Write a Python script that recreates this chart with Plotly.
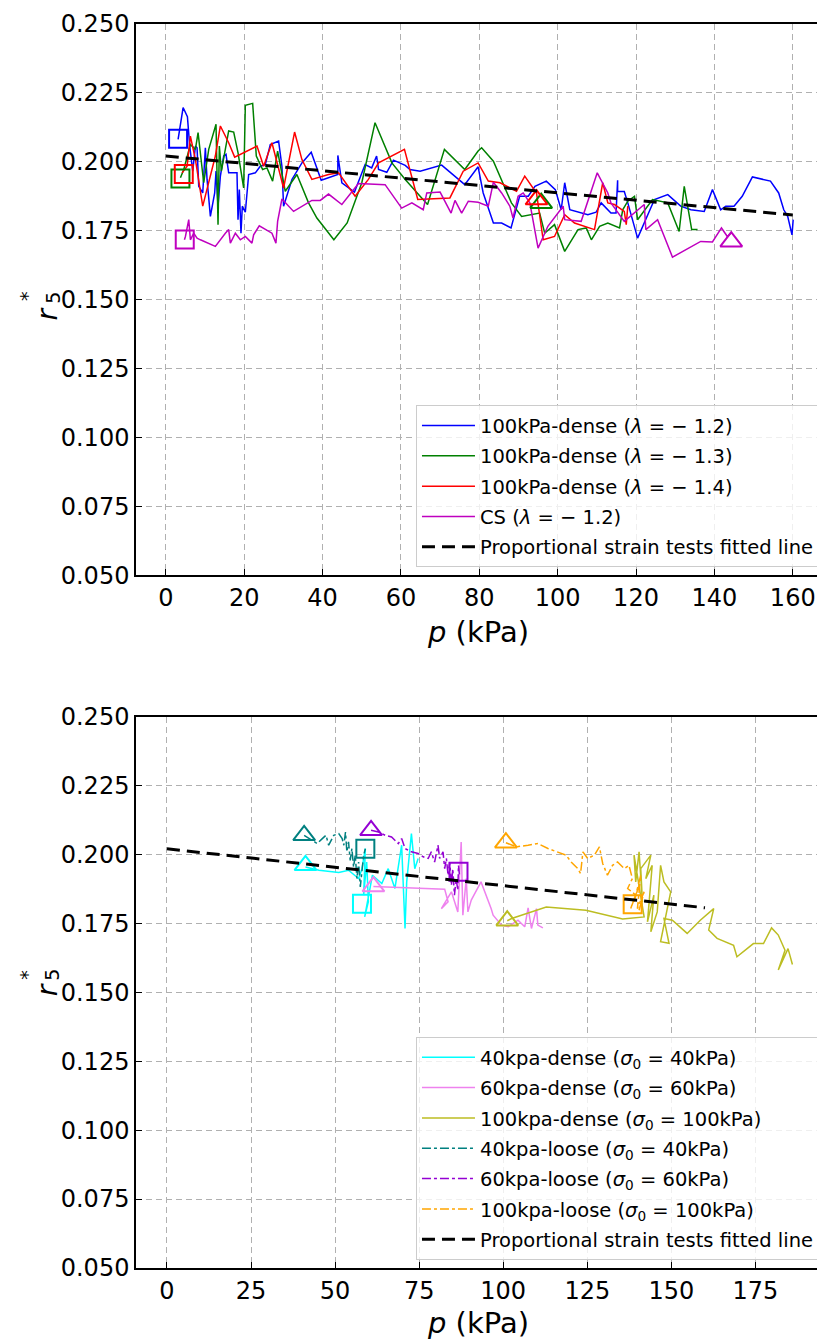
import plotly.graph_objects as go

# ---------------- top panel data ----------------
blue_p = [3.14, 4.42, 5.52, 6.11, 6.88, 7.56, 7.98, 8.41, 9.43, 10.1, 10.53, 11.38, 12.48, 12.82, 13.33, 13.93,
          14.78, 15.37, 16.05, 18.17, 18.43, 18.77, 19.19, 19.53, 20.3, 21.15, 22.85, 24.12, 25.39, 26.67, 28.79,
          29.64, 30.06, 32.19, 34.74, 37.11, 39.66, 43.91, 43.91, 44.93, 48.15, 50.87, 52.55, 53.8, 54.3, 56.4,
          58.1, 61.1, 62.3, 64.9, 70.4, 76.3, 79.7, 81.0, 83.6, 85.7, 88.1, 90.3, 92.5, 94.2, 97.1, 99.4, 100.9,
          101.8, 103.1, 107.7, 109.8, 111.1, 113.6, 114.9, 115.3, 115.3, 117.0, 117.9, 120.4, 124.7, 128.1,
          131.4, 134.0, 137.4, 139.5, 141.6, 142.9, 145.0, 147.1, 149.7, 154.3, 156.4, 157.7, 158.7, 159.8, 160.1]
blue_r = [0.2081, 0.2197, 0.2164, 0.2057, 0.1966, 0.2057, 0.2051, 0.1911, 0.1887, 0.2051, 0.1936, 0.1802, 0.1887,
          0.1966, 0.1839, 0.1948, 0.2021, 0.2027, 0.1960, 0.1960, 0.1790, 0.1899, 0.1741, 0.1839, 0.1817, 0.1954,
          0.1960, 0.1984, 0.1990, 0.2063, 0.2075, 0.1984, 0.1839, 0.1936, 0.1996, 0.2035, 0.1933, 0.1954, 0.2023,
          0.1924, 0.1890, 0.1990, 0.1978, 0.2021, 0.1972, 0.1962, 0.2006, 0.1987, 0.1972, 0.1966, 0.1988, 0.1917,
          0.1982, 0.1887, 0.1778, 0.1778, 0.1760, 0.1875, 0.1875, 0.1911, 0.1930, 0.1899, 0.1826, 0.1924, 0.1826,
          0.1808, 0.1817, 0.1851, 0.1814, 0.1814, 0.1933, 0.1893, 0.1892, 0.1851, 0.1723, 0.1863, 0.1881, 0.1839,
          0.1826, 0.1820, 0.1899, 0.1826, 0.1839, 0.1839, 0.1875, 0.1945, 0.1930, 0.1887, 0.1826, 0.1802, 0.1735,
          0.1790]

green_p = [3.74, 4.59, 6.28, 7.56, 8.24, 9.68, 10.96, 12.82, 13.33, 13.67, 14.18, 16.05, 17.33, 18.43, 19.87, 20.3,
           22.17, 23.1, 24.71, 25.82, 27.26, 28.54, 30.49, 33.46, 36.43, 38.56, 42.89, 46.28, 50.02, 53.4, 57.7,
           61.1, 65.3, 66.8, 71.1, 76.3, 79.7, 80.6, 83.6, 85.7, 88.2, 90.8, 92.9, 95.4, 96.7, 99.2, 101.8, 105.2,
           107.3, 108.6, 110.7, 112.8, 115.8, 116.6, 117.9, 119.6, 120.4, 123.0, 124.2, 128.1, 129.7, 131.0, 132.3,
           134.2, 135.7]
green_r = [0.1942, 0.1972, 0.2063, 0.2045, 0.2106, 0.1924, 0.2045, 0.2136, 0.1772, 0.2057, 0.1966, 0.2112, 0.2108,
           0.2033, 0.1905, 0.2205, 0.2212, 0.2021, 0.1972, 0.1978, 0.1930, 0.2039, 0.1893, 0.1954, 0.1851, 0.1796,
           0.1717, 0.1778, 0.1924, 0.2142, 0.1996, 0.1936, 0.1869, 0.1845, 0.2045, 0.1972, 0.2039, 0.2051, 0.2002,
           0.1930, 0.1851, 0.1802, 0.1808, 0.1814, 0.1741, 0.1772, 0.1675, 0.1754, 0.1760, 0.1717, 0.1766, 0.1778,
           0.1760, 0.1826, 0.1857, 0.1875, 0.1790, 0.1839, 0.1863, 0.1851, 0.1790, 0.1747, 0.1911, 0.1754, 0.1754]

red_p = [4.16, 5.44, 6.28, 7.56, 9.43, 11.38, 12.65, 13.93, 16.05, 17.58, 23.27, 24.97, 27.09, 30.06, 32.87, 34.74,
         37.28, 41.53, 44.08, 48.32, 51.7, 54.3, 60.9, 64.3, 72.5, 75.9, 79.7, 82.3, 85.3, 89.5, 91.6, 94.6, 96.3,
         99.2, 101.8, 104.3, 109.4, 111.5, 112.8, 114.5, 117.0, 117.5, 117.9]
red_r = [0.1960, 0.1984, 0.2093, 0.2008, 0.1839, 0.1948, 0.2021, 0.2130, 0.2069, 0.2017, 0.2057, 0.1984, 0.2069,
         0.1905, 0.2108, 0.2008, 0.1936, 0.1954, 0.1960, 0.1875, 0.1936, 0.1996, 0.2045, 0.1863, 0.1869, 0.1966,
         0.1996, 0.1930, 0.1924, 0.1893, 0.1948, 0.1887, 0.1717, 0.1729, 0.1808, 0.1778, 0.1754, 0.1924, 0.1851,
         0.1845, 0.1820, 0.1772, 0.1839]

mag_p = [4.76, 5.01, 5.86, 6.28, 7.13, 7.98, 8.83, 12.65, 15.2, 16.05, 16.48, 17.75, 19.02, 20.3, 21.99, 22.42,
         23.86, 27.09, 28.11, 28.54, 29.64, 32.61, 37.28, 39.41, 41.53, 44.93, 49.17, 55.97, 60.2, 62.8, 65.7,
         66.6, 70.0, 72.8, 73.8, 75.5, 77.2, 79.7, 82.3, 83.6, 85.7, 87.8, 88.6, 89.9, 91.2, 92.9, 95.0, 97.5,
         101.4, 101.8, 106.0, 107.7, 110.1, 112.8, 113.6, 117.0, 122.1, 122.5, 125.5, 129.3, 136.5, 139.5, 141.8,
         143.3, 144.2]
mag_r = [0.1717, 0.1729, 0.1790, 0.1717, 0.1741, 0.1723, 0.1717, 0.1693, 0.1741, 0.1754, 0.1705, 0.1741, 0.1717,
         0.1729, 0.1705, 0.1735, 0.1768, 0.1741, 0.1705, 0.1784, 0.1865, 0.1820, 0.1860, 0.1860, 0.1883, 0.1845,
         0.1921, 0.1917, 0.1832, 0.1851, 0.1826, 0.1887, 0.1890, 0.1814, 0.1860, 0.1814, 0.1857, 0.1853, 0.1839,
         0.1926, 0.1887, 0.1839, 0.1796, 0.1875, 0.1887, 0.1851, 0.1687, 0.1766, 0.1839, 0.1790, 0.1784, 0.1857,
         0.1960, 0.1887, 0.1851, 0.1784, 0.1845, 0.1754, 0.1790, 0.1654, 0.1711, 0.1709, 0.1760, 0.1729, 0.1741]

# start (square) and end (triangle) markers, top panel
top_sq_p = [3.14, 3.74, 4.59, 4.84]
top_sq_r = [0.2084, 0.1939, 0.1956, 0.1718]
top_tri_p = [95.8, 94.6, 144.3]
top_tri_r = [0.1850, 0.1863, 0.1710]

# fitted line (shared by both panels)
fit_p = [0, 160]
fit_r = [0.2021, 0.1807]

# ---------------- bottom panel data ----------------
cyan_p = [41.2, 45.2, 51.1, 54.0, 57.0, 58.0, 59.0, 58.5, 59.4, 59.9, 58.8, 60.4, 61.1, 63.9, 65.8, 67.8, 69.8,
          70.8, 71.3, 72.7, 73.7, 74.7]
cyan_r = [0.1955, 0.1943, 0.1935, 0.1943, 0.1913, 0.1949, 0.2022, 0.1853, 0.1973, 0.1829, 0.1774, 0.1877, 0.1925,
          0.1895, 0.1949, 0.1877, 0.2034, 0.1732, 0.1901, 0.2076, 0.1949, 0.1986]

violet_p = [61.4, 63.9, 72.7, 82.6, 83.6, 81.6, 84.6, 86.5, 87.5, 88.0, 89.0, 89.5, 90.5, 93.4, 96.4, 97.0, 99.5,
            101.5, 104.4, 106.4, 107.4, 108.4, 109.9, 110.3, 111.8]
violet_r = [0.1884, 0.1883, 0.1879, 0.1874, 0.1829, 0.1804, 0.1865, 0.1792, 0.2046, 0.1780, 0.1913, 0.1792, 0.1835,
            0.1901, 0.1804, 0.1780, 0.1744, 0.1738, 0.1762, 0.1738, 0.1807, 0.1732, 0.1804, 0.1744, 0.1734]

olive_p = [101.2, 102.5, 112.8, 124.6, 135.5, 141.9, 138.9, 139.4, 140.4, 141.4, 140.9, 143.9, 142.4, 144.3, 142.9,
           144.8, 143.9, 145.8, 146.8, 147.8, 149.8, 146.8, 149.3, 147.8, 150.3, 154.7, 158.6, 162.6, 161.1, 163.6,
           168.5, 169.5, 174.4, 177.4, 179.8, 181.8, 183.8, 181.8, 184.7, 186.0]
olive_r = [0.1760, 0.1768, 0.1810, 0.1798, 0.1766, 0.1774, 0.1998, 0.1901, 0.2010, 0.1828, 0.1949, 0.1998, 0.1913,
           0.1961, 0.1756, 0.1853, 0.1720, 0.1792, 0.1961, 0.1901, 0.1865, 0.1684, 0.1678, 0.1768, 0.1762, 0.1714,
           0.1762, 0.1804, 0.1726, 0.1696, 0.1671, 0.1629, 0.1677, 0.1677, 0.1734, 0.1708, 0.1653, 0.1581, 0.1659,
           0.1601]

teal_p = [40.8, 43.2, 44.7, 46.2, 47.3, 48.1, 49.6, 51.1, 52.1, 52.6, 53.1, 53.5, 54.0, 54.5, 55.0, 55.5, 56.0,
          56.5, 57.0, 57.5, 58.0, 58.5, 59.0]
teal_r = [0.2070, 0.2052, 0.2040, 0.2058, 0.2070, 0.2034, 0.2070, 0.2076, 0.2058, 0.2034, 0.2082, 0.2010, 0.2046,
          0.1979, 0.2022, 0.1955, 0.1998, 0.1913, 0.1973, 0.1883, 0.1949, 0.1998, 0.2021]

dviolet_p = [60.7, 62.9, 64.9, 66.8, 68.8, 69.8, 70.8, 72.7, 74.7, 76.2, 77.7, 78.6, 79.6, 80.6, 81.1, 82.1, 82.6,
             83.1, 83.6, 84.1, 84.6, 85.0, 85.5, 86.0, 86.5, 86.7, 87.0]
dviolet_r = [0.2088, 0.2082, 0.2070, 0.2064, 0.2040, 0.2058, 0.2022, 0.2010, 0.2004, 0.1992, 0.1986, 0.2010, 0.1973,
             0.2034, 0.1986, 0.2010, 0.1949, 0.1986, 0.1925, 0.1973, 0.1889, 0.1949, 0.1853, 0.1913, 0.1871, 0.1961,
             0.1925]

orange_p = [100.8, 103.9, 107.4, 110.3, 113.3, 116.3, 118.7, 120.2, 122.2, 123.0, 123.7, 125.1, 127.1, 128.6, 129.6,
            131.0, 132.5, 134.0, 136.0, 137.4, 138.4, 137.0, 139.4, 137.9, 140.4, 138.9, 140.9, 139.9, 141.9, 140.4]
orange_r = [0.2043, 0.2028, 0.2034, 0.2040, 0.2022, 0.2010, 0.1998, 0.1973, 0.1949, 0.1931, 0.2010, 0.1986, 0.1998,
            0.2028, 0.1967, 0.1925, 0.1961, 0.1973, 0.1949, 0.1961, 0.1913, 0.1877, 0.1853, 0.1804, 0.1889, 0.1829,
            0.1925, 0.1804, 0.1865, 0.1798]

bot_sq = {"cyan": (58.0, 0.1822), "teal": (59.0, 0.2021), "dviolet": (86.7, 0.1938), "orange": (138.5, 0.1820)}
bot_tri = {"cyan": (41.2, 0.1961), "violet": (61.4, 0.1884), "olive": (101.2, 0.1760),
           "teal": (40.8, 0.2070), "dviolet": (60.7, 0.2088), "orange": (100.8, 0.2043)}

top_x_ticks = [0, 20, 40, 60, 80, 100, 120, 140, 160]
bot_x_ticks = [0, 25, 50, 75, 100, 125, 150, 175]
y_ticks = [0.050, 0.075, 0.100, 0.125, 0.150, 0.175, 0.200, 0.225, 0.250]

FONT = "DejaVu Sans"
fig = go.Figure()


def line(x, y, name, color, xa, ya, leg, dash="solid", width=1.5):
    fig.add_trace(go.Scatter(x=x, y=y, mode="lines", name=name, line=dict(color=color, width=width, dash=dash),
                             xaxis=xa, yaxis=ya, legend=leg, legendgroup=leg + name))


def marks(x, y, symbol, color, xa, ya, size=18):
    fig.add_trace(go.Scatter(x=x, y=y, mode="markers", showlegend=False, xaxis=xa, yaxis=ya,
                             marker=dict(symbol=symbol, size=size, color=color,
                                         line=dict(color=color, width=2))))


# top panel
top_series = [
    (blue_p, blue_r, "100kPa-dense (<i>λ</i> = − 1.2)", "#0000ff"),
    (green_p, green_r, "100kPa-dense (<i>λ</i> = − 1.3)", "#008000"),
    (red_p, red_r, "100kPa-dense (<i>λ</i> = − 1.4)", "#ff0000"),
    (mag_p, mag_r, "CS (<i>λ</i> = − 1.2)", "#bf00bf"),
]
for x, y, n, c in top_series:
    line(x, y, n, c, "x", "y", "legend")
top_cols = ["#0000ff", "#008000", "#ff0000", "#bf00bf"]
for i in range(4):
    marks([top_sq_p[i]], [top_sq_r[i]], "square-open", top_cols[i], "x", "y")
for i, c in enumerate(["#008000", "#ff0000", "#bf00bf"]):
    marks([top_tri_p[i]], [top_tri_r[i]], "triangle-up-open", c, "x", "y", size=19)
line(fit_p, fit_r, "Proportional strain tests fitted line", "black", "x", "y", "legend", dash="13px,7px", width=3)

# bottom panel
cols = {"cyan": "#00ffff", "violet": "#ee82ee", "olive": "#bcbd22", "teal": "#008080",
        "dviolet": "#9400d3", "orange": "#ffa500"}
bot_series = [
    (cyan_p, cyan_r, "40kpa-dense (<i>σ</i><sub>0</sub> = 40kPa)", "cyan", "solid"),
    (violet_p, violet_r, "60kpa-dense (<i>σ</i><sub>0</sub> = 60kPa)", "violet", "solid"),
    (olive_p, olive_r, "100kpa-dense (<i>σ</i><sub>0</sub> = 100kPa)", "olive", "solid"),
    (teal_p, teal_r, "40kpa-loose (<i>σ</i><sub>0</sub> = 40kPa)", "teal", "dashdot"),
    (dviolet_p, dviolet_r, "60kpa-loose (<i>σ</i><sub>0</sub> = 60kPa)", "dviolet", "dashdot"),
    (orange_p, orange_r, "100kpa-loose (<i>σ</i><sub>0</sub> = 100kPa)", "orange", "dashdot"),
]
for x, y, n, k, d in bot_series:
    line(x, y, n, cols[k], "x2", "y2", "legend2", dash=d)
for k, (px, pr) in bot_sq.items():
    marks([px], [pr], "square-open", cols[k], "x2", "y2")
for k, (px, pr) in bot_tri.items():
    marks([px], [pr], "triangle-up-open", cols[k], "x2", "y2", size=19)
line(fit_p, fit_r, "Proportional strain tests fitted line", "black", "x2", "y2", "legend2", dash="13px,7px", width=3)

axis_common = dict(showline=True, linecolor="black", linewidth=1.5, mirror=True, ticks="inside", ticklen=6,
                   tickwidth=1.2, tickcolor="black", showgrid=True, gridcolor="#b0b0b0", gridwidth=1.2,
                   griddash="6px,4px", zeroline=False, tickfont=dict(family=FONT, size=24, color="black"))
title_font = dict(family=FONT, size=29, color="black")
legend_common = dict(xanchor="right", yanchor="bottom", bgcolor="rgba(255,255,255,0.8)",
                     bordercolor="#cccccc", borderwidth=1, font=dict(family=FONT, size=19.5),
                     tracegroupgap=2, itemwidth=53)

# page body has an 8px margin: figure is 8px smaller so the plot areas land where the reference has them
fig.update_layout(
    width=817, height=1332, margin=dict(l=128, r=2, t=12, b=72),
    plot_bgcolor="white", paper_bgcolor="white", font=dict(family=FONT, color="black"),
    xaxis=dict(domain=[0, 1], anchor="y", range=[-7.6, 167.2], tickvals=top_x_ticks,
               title=dict(text="<i>p</i> (kPa)", font=title_font, standoff=11), **axis_common),
    yaxis=dict(domain=[0.5569, 1], anchor="x", range=[0.05, 0.25], tickvals=y_ticks, tickformat=".3f",
               **axis_common),
    xaxis2=dict(domain=[0, 1], anchor="y2", range=[-9.2, 194.5], tickvals=bot_x_ticks,
                title=dict(text="<i>p</i> (kPa)", font=title_font, standoff=11), **axis_common),
    yaxis2=dict(domain=[0, 0.4431], anchor="x2", range=[0.05, 0.25], tickvals=y_ticks, tickformat=".3f",
                **axis_common),
    legend=dict(x=0.9985, y=0.5633, **legend_common),
    legend2=dict(x=0.9985, y=0.0064, **legend_common),
)

# y-axis label r*_5 (stacked super/subscript) for both panels
for yc in (0.7740, 0.2171):
    fig.add_annotation(text="<i>r</i>", x=-0.1557, y=yc, xref="paper", yref="paper", showarrow=False,
                       textangle=-90, font=dict(family=FONT, size=28, color="black"))
    fig.add_annotation(text="*", x=-0.1783, y=yc + 0.0129, xref="paper", yref="paper", showarrow=False,
                       textangle=-90, font=dict(family=FONT, size=19, color="black"))
    fig.add_annotation(text="5", x=-0.1412, y=yc + 0.0125, xref="paper", yref="paper", showarrow=False,
                       textangle=-90, font=dict(family=FONT, size=19, color="black"))

fig.write_html("out.html")
